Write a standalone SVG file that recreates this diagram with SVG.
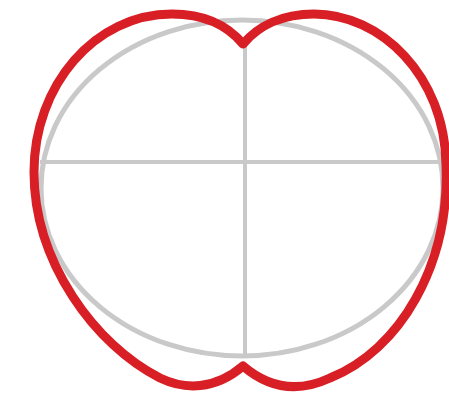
<svg xmlns="http://www.w3.org/2000/svg" width="449" height="401" viewBox="0 0 449 401">
<style>
.guide{fill:none;stroke:#c9c9c9;stroke-width:5}
.line{stroke:#c9c9c9;stroke-width:4}
.apple{fill:none;stroke:#d81f26;stroke-width:9;stroke-linejoin:round}
</style>
<rect width="449" height="401" fill="#ffffff"/>
<g id="guides">
<ellipse class="guide" cx="242" cy="188" rx="201" ry="168"/>
<line class="line" x1="40" y1="162" x2="449" y2="162"/>
<line class="line" x1="245" y1="42" x2="245" y2="356"/>
</g>
<g id="apple">
<path class="apple" d="M243,44 C228,26 205,14 172,14 C95,14 34,85 34,172 C34,262 95,345 160,378 C185,390 215,390 243,366 C271,390 300,392 330,378 C400,350 450,265 446,165 C445,75 380,14 314,14 C282,14 258,26 243,44 Z"/>
</g>
</svg>
